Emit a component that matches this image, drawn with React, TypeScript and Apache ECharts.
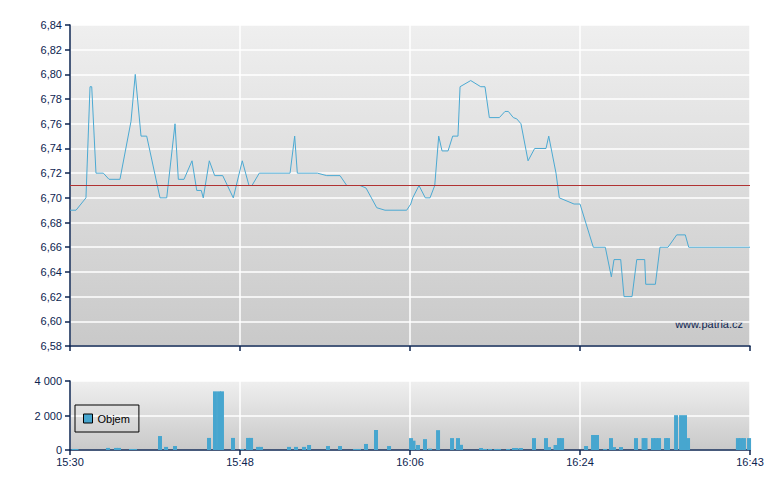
import { useEffect, useRef } from 'react';
import * as echarts from 'echarts';

// minutes since 15:30
const priceTimes = [
    0, 0.64, 1.69, 2.12, 2.3, 2.75, 3.53, 4.13, 5.29, 6.46, 6.91, 7.52, 8.12, 9.53, 10.24, 11.12, 11.47,
    12.07, 12.92, 13.42, 13.9, 14.11, 14.75, 15.32, 16.17, 17.29, 18.24, 18.95, 19.27, 20.04, 23.3, 23.79,
    24.07, 26.19, 27.18, 28.59, 29.3, 30.71, 31.34, 32.48, 33.35, 35.65, 36.08, 36.29, 36.95, 37.62, 38.12,
    38.62, 39.04, 39.39, 40.03, 40.52, 41.08, 41.3, 42.43, 43.49, 43.94, 44.4, 45.46, 46.06, 46.41, 46.94,
    47.3, 47.75, 48.5, 49.2, 50.4, 50.69, 51.46, 51.81, 53.37, 54.0, 55.41, 56.68, 57.32, 57.6, 58.31,
    58.66, 59.51, 60.01, 60.85, 60.96, 61.98, 62.47, 63.32, 64.24, 65.15, 65.51, 72,
];
const prices = [
    6.69, 6.69, 6.7, 6.79, 6.79, 6.72, 6.72, 6.715, 6.715, 6.762, 6.8, 6.75, 6.75, 6.7, 6.7, 6.76, 6.715,
    6.715, 6.73, 6.706, 6.706, 6.7, 6.73, 6.718, 6.718, 6.7, 6.73, 6.71, 6.71, 6.72, 6.72, 6.75,
    6.72, 6.72, 6.718, 6.718, 6.71, 6.71, 6.708, 6.692, 6.69, 6.69, 6.695, 6.7, 6.71, 6.7, 6.7,
    6.71, 6.75, 6.738, 6.738, 6.75, 6.75, 6.79, 6.795, 6.79, 6.79, 6.765, 6.765, 6.77, 6.77, 6.765,
    6.764, 6.76, 6.73, 6.74, 6.74, 6.75, 6.72, 6.7, 6.695, 6.695, 6.66, 6.66, 6.636, 6.65, 6.65,
    6.62, 6.62, 6.65, 6.65, 6.63, 6.63, 6.66, 6.66, 6.67, 6.67, 6.66, 6.66,
];
const previousClose = 6.71;

const volumeTimes = [
    0.37, 0.69, 4.02, 4.87, 5.19, 6.46, 6.88, 9.53, 10.17, 11.12, 14.72, 15.35, 15.78, 16.09, 17.26, 18.21,
    18.85, 19.17, 19.91, 20.22, 23.19, 23.93, 24.78, 25.31, 27.32, 28.59, 30.18, 30.6, 31.34, 32.4, 33.78,
    36.11, 36.37, 36.85, 37.59, 38.12, 38.97, 40.45, 41.08, 41.4, 43.52, 43.94, 44.47, 45.11, 45.43, 46.38,
    47.01, 47.28, 47.75, 49.13, 50.4, 50.72, 51.41, 51.78, 52.1, 54.64, 55.38, 55.8, 56.65, 57.28, 57.6,
    58.34, 59.93, 60.73, 60.94, 61.73, 62.05, 62.37, 63.11, 63.32, 64.17, 64.7, 65.12, 65.44, 70.72, 71.04,
    71.36, 71.9,
];
const volumes = [
    60, 60, 120, 120, 120, 60, 60, 810, 180, 230, 700, 3400, 3400, 3400, 700, 60,
    700, 700, 180, 180, 180, 180, 180, 290, 230, 230, 60, 60, 350, 1160, 230,
    690, 540, 290, 630, 80, 1150, 690, 690, 300, 115, 60, 60, 60, 60, 60,
    115, 115, 115, 690, 690, 170, 290, 690, 690, 230, 870, 870, 60, 690, 170,
    170, 690, 690, 690, 690, 690, 690, 690, 690, 2020, 2020, 2020, 690, 690, 690,
    690, 690,
];

const timeLabels = ['15:30', '15:48', '16:06', '16:24', '16:43'];

const navy = '#0c2450';
const font = 'Liberation Sans, Arial, sans-serif';

const bg = () =>
    new echarts.graphic.LinearGradient(0, 0, 0, 1, [
        { offset: 0, color: '#efefef' },
        { offset: 1, color: '#c9c9c9' },
    ]);

export default function App() {
    const chartRef = useRef<HTMLDivElement>(null);

    useEffect(() => {
        document.body.style.margin = '0';
        const chart = echarts.init(chartRef.current, null, { renderer: 'svg' });

        const xAxisBase = {
            type: 'value',
            min: 0,
            max: 72,
            interval: 18,
            axisLine: { lineStyle: { color: navy, width: 1.5 } },
            axisTick: { length: 5, lineStyle: { color: navy, width: 1.5 } },
            splitLine: { lineStyle: { color: '#ffffff', width: 1.5 } },
        };

        chart.setOption({
            animation: false,
            textStyle: { fontFamily: font },
            grid: [
                { left: 70, right: 30, top: 25, height: 321, show: true, backgroundColor: bg(), borderWidth: 0 },
                { left: 70, right: 30, top: 381, height: 69, show: true, backgroundColor: bg(), borderWidth: 0 },
            ],
            xAxis: [
                { ...xAxisBase, gridIndex: 0, axisLabel: { show: false } },
                {
                    ...xAxisBase,
                    gridIndex: 1,
                    axisLabel: {
                        color: navy,
                        fontSize: 11,
                        fontFamily: font,
                        margin: 6,
                        formatter: (v: number) => timeLabels[Math.round(v / 18)],
                    },
                },
            ],
            yAxis: [
                {
                    type: 'value',
                    gridIndex: 0,
                    min: 6.58,
                    max: 6.84,
                    interval: 0.02,
                    axisLine: { show: true, lineStyle: { color: navy, width: 1.5 } },
                    axisTick: { show: true, length: 5, lineStyle: { color: navy, width: 1.5 } },
                    splitLine: { lineStyle: { color: '#ffffff', width: 1.5 } },
                    axisLabel: {
                        color: navy,
                        fontSize: 11,
                        fontFamily: font,
                        margin: 8,
                        formatter: (v: number) => v.toFixed(2).replace('.', ','),
                    },
                },
                {
                    type: 'value',
                    gridIndex: 1,
                    min: 0,
                    max: 4000,
                    interval: 2000,
                    axisLine: { show: true, lineStyle: { color: navy, width: 1.5 } },
                    axisTick: { show: true, length: 5, lineStyle: { color: navy, width: 1.5 } },
                    splitLine: { lineStyle: { color: '#ffffff', width: 1.5 } },
                    axisLabel: {
                        color: navy,
                        fontSize: 11,
                        fontFamily: font,
                        margin: 8,
                        formatter: (v: number) => String(v).replace(/\B(?=(\d{3})+(?!\d))/g, ' '),
                    },
                },
            ],
            legend: {
                left: 75,
                top: 405,
                data: ['Objem'],
                icon: 'rect',
                itemWidth: 9,
                itemHeight: 9,
                itemGap: 4,
                padding: [8, 9, 8, 8],
                borderColor: '#000000',
                borderWidth: 1,
                textStyle: { color: '#000000', fontSize: 11, fontFamily: font },
                itemStyle: { borderColor: '#000000', borderWidth: 1 },
            },
            graphic: [
                {
                    type: 'text',
                    right: 37,
                    top: 318,
                    style: { text: 'www.patria.cz', fill: navy, font: `11px ${font}` },
                },
            ],
            series: [
                {
                    type: 'line',
                    xAxisIndex: 0,
                    yAxisIndex: 0,
                    data: priceTimes.map((t, i) => [t, prices[i]]),
                    showSymbol: false,
                    lineStyle: { color: '#4ba9d2', width: 1 },
                    itemStyle: { color: '#4ba9d2' },
                    markLine: {
                        silent: true,
                        symbol: 'none',
                        label: { show: false },
                        lineStyle: { color: '#b03232', type: 'solid', width: 1 },
                        data: [{ yAxis: previousClose }],
                    },
                },
                {
                    name: 'Objem',
                    type: 'bar',
                    xAxisIndex: 1,
                    yAxisIndex: 1,
                    barWidth: 4,
                    data: volumeTimes.map((t, i) => [t, volumes[i]]),
                    itemStyle: { color: '#47a6cf' },
                },
            ],
        });

        return () => {
            chart.dispose();
        };
    }, []);

    return <div ref={chartRef} style={{ width: '780px', height: '490px' }} />;
}
